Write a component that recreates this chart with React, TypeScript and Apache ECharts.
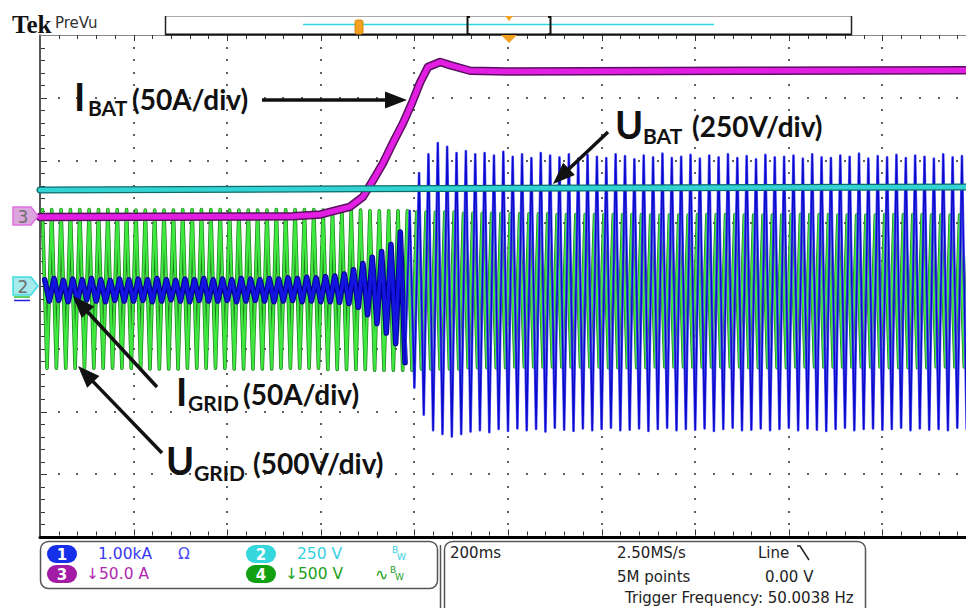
import { useEffect, useRef } from "react";
import * as echarts from "echarts";

// ---------- scope settings ----------
const TIME_MIN = 0; // ms
const TIME_MAX = 2000; // ms (10 div x 200 ms)
const TIME_DIV = 200;
const Y_MIN = -4; // divisions
const Y_MAX = 4;
const Y_DIV = 1;
const SUBDIV = 5; // minor graticule marks per division
const MAINS_PERIOD_MS = 20; // 50 Hz
const IGRID_STEP_CYCLE = 38; // cycle where the grid current ramps to full load

// ---------- Ch3 I_BAT (divisions) ----------
const IBAT_T = [0, 540, 600, 620, 662, 690, 712, 733, 754, 776, 795, 812, 829, 855, 876, 919, 1000, 1500, 2000];
const IBAT_V = [1.1, 1.11, 1.14, 1.18, 1.26, 1.42, 1.69, 1.96, 2.28, 2.6, 2.92, 3.24, 3.49, 3.57, 3.52, 3.43, 3.42, 3.43, 3.44];

// ---------- Ch2 U_BAT (divisions) ----------
const UBAT_T = [0, 700, 2000];
const UBAT_V = [1.53, 1.55, 1.58];

// ---------- Ch1 I_GRID: per-cycle positive / negative peaks (divisions) ----------
const IGRID_MAX = [
  0.1, 0.12, 0.09, 0.11, 0.1, 0.12, 0.1, 0.09, 0.11, 0.1,
  0.11, 0.1, 0.12, 0.1, 0.09, 0.11, 0.1, 0.12, 0.1, 0.11,
  0.1, 0.12, 0.11, 0.1, 0.12, 0.11, 0.13, 0.12, 0.14, 0.13,
  0.15, 0.16, 0.19, 0.26, 0.36, 0.46, 0.55, 0.66, 0.86, 1.2,
  1.8, 2.1, 2.28, 2.22, 2.12, 2.15, 2.1, 2.12, 2.08, 2.14,
  2.06, 2.1, 2.04, 2.12, 2.08, 2.05, 2.1, 2.03, 2.09, 2.06,
  2.04, 2.1, 2.07, 2.02, 2.08, 2.05, 2.11, 2.04, 2.06, 2.09,
  2.03, 2.08, 2.05, 2.1, 2.04, 2.07, 2.02, 2.09, 2.05, 2.06,
  2.08, 2.03, 2.1, 2.05, 2.04, 2.08, 2.06, 2.11, 2.03, 2.07,
  2.05, 2.09, 2.04, 2.08, 2.06, 2.03, 2.1, 2.05, 2.07, 2.04,
];
const IGRID_MIN = [
  -0.24, -0.23, -0.25, -0.24, -0.22, -0.24, -0.25, -0.23, -0.24, -0.24,
  -0.23, -0.25, -0.24, -0.22, -0.24, -0.25, -0.23, -0.24, -0.24, -0.23,
  -0.25, -0.24, -0.23, -0.24, -0.25, -0.24, -0.23, -0.25, -0.24, -0.25,
  -0.25, -0.26, -0.28, -0.34, -0.46, -0.6, -0.75, -0.92, -1.22, -1.62,
  -2.05, -2.3, -2.36, -2.4, -2.36, -2.32, -2.3, -2.33, -2.28, -2.31,
  -2.27, -2.3, -2.28, -2.32, -2.26, -2.29, -2.31, -2.27, -2.3, -2.28,
  -2.26, -2.3, -2.29, -2.27, -2.31, -2.28, -2.26, -2.3, -2.28, -2.29,
  -2.27, -2.31, -2.28, -2.26, -2.3, -2.29, -2.27, -2.3, -2.28, -2.26,
  -2.3, -2.27, -2.29, -2.31, -2.28, -2.26, -2.3, -2.28, -2.27, -2.29,
  -2.28, -2.26, -2.3, -2.27, -2.29, -2.28, -2.3, -2.26, -2.28, -2.27,
];

// ---------- Ch4 U_GRID: peaks per 100 ms segment (5 cycles each), divisions ----------
const UGRID_MAX = [1.22, 1.22, 1.21, 1.22, 1.21, 1.22, 1.21, 1.2, 1.18, 1.16, 1.15, 1.14, 1.14, 1.13, 1.14, 1.13, 1.14, 1.13, 1.14, 1.13];
const UGRID_MIN = [-1.31, -1.31, -1.32, -1.31, -1.32, -1.31, -1.33, -1.34, -1.32, -1.3, -1.29, -1.29, -1.3, -1.29, -1.29, -1.3, -1.29, -1.29, -1.3, -1.29];

// ---------- texts ----------
const LEFT_STATUS = { ch1: "1.00kA", ch2: "250 V", ch3: "\u219350.0 A", ch4: "\u2193500 V" };
const RIGHT_STATUS = {
  timebase: "200ms",
  rate: "2.50MS/s",
  points: "5M points",
  trigSrc: "Line",
  trigLevel: "0.00 V",
  trigFreq: "Trigger Frequency: 50.0038 Hz",
};

function zigzag(maxs: number[], mins: number[], cyclesPer: number, phase: number, from = 0, to = Infinity) {
  const pts: [number, number][] = [];
  const n = Math.min(maxs.length * cyclesPer, to);
  for (let c = from; c < n; c++) {
    const k = Math.floor(c / cyclesPer);
    pts.push([c * MAINS_PERIOD_MS + phase, maxs[k]]);
    pts.push([c * MAINS_PERIOD_MS + phase + MAINS_PERIOD_MS / 2, mins[k]]);
  }
  return pts;
}
const pairs = (t: number[], v: number[]) => t.map((x, i) => [x, v[i]]);

function lineSeries(data: any[], color: string, width: number, z: number) {
  return {
    type: "line",
    data,
    symbol: "none",
    showSymbol: false,
    silent: true,
    clip: true,
    z,
    lineStyle: { color, width, join: "round", cap: "round" },
  };
}

function arrow(x1: number, y1: number, x2: number, y2: number, head = 22, half = 8.5) {
  const dx = x2 - x1, dy = y2 - y1, L = Math.hypot(dx, dy);
  const ux = dx / L, uy = dy / L;
  const bx = x2 - ux * head, by = y2 - uy * head;
  return [
    { type: "line", z: 100, shape: { x1, y1, x2: bx + ux * 2, y2: by + uy * 2 }, style: { stroke: "#111", lineWidth: 3.5 } },
    {
      type: "polygon", z: 100,
      shape: { points: [[x2, y2], [bx - uy * half, by + ux * half], [bx + uy * half, by - ux * half]] },
      style: { fill: "#111" },
    },
  ];
}

function txt(text: string, x: number, y: number, size: number, fill: string, family: string, weight = "normal", align = "left") {
  return {
    type: "text", z: 100, x, y,
    style: {
      text, fill, fontSize: size, fontFamily: family, fontWeight: weight,
      textAlign: align, align, textVerticalAlign: "middle", verticalAlign: "middle",
    },
  };
}

function pill(x: number, y: number, label: string, color: string) {
  return [
    { type: "rect", z: 100, shape: { x, y, width: 30, height: 18, r: 9 }, style: { fill: color } },
    txt(label, x + 15, y + 9.5, 15, "#fff", "DejaVu Sans", "bold", "center"),
  ];
}

function marker(y: number, label: string, fill: string, stroke: string) {
  return [
    {
      type: "polygon", z: 100,
      shape: { points: [[13, y - 9], [31, y - 9], [38, y], [31, y + 9], [13, y + 9]] },
      style: { fill, stroke, lineWidth: 1.5 },
    },
    txt(label, 23, y + 0.5, 17, "#6d6d6d", "DejaVu Sans", "normal", "center"),
  ];
}

const LATO = "Lato";
const SANS = "DejaVu Sans";

export default function App() {
  const ref = useRef<HTMLDivElement>(null);
  useEffect(() => {
    const chart = echarts.init(ref.current!, null, { renderer: "svg" });

    const green = zigzag(UGRID_MAX, UGRID_MIN, 5, 5);
    const blueLow = zigzag(IGRID_MAX, IGRID_MIN, 1, 10, 0, IGRID_STEP_CYCLE + 1);
    const blueHigh = zigzag(IGRID_MAX, IGRID_MIN, 1, 10, IGRID_STEP_CYCLE);
    const mag = pairs(IBAT_T, IBAT_V);
    const cyan = pairs(UBAT_T, UBAT_V);

    const graphics: any[] = [
      // header
      txt("Tek", 12, 24, 25, "#111", "Liberation Serif", "bold"),
      txt("PreVu", 55, 23, 15, "#333", SANS),
      { type: "rect", z: 100, shape: { x: 165.5, y: 16.5, width: 686, height: 18 }, style: { fill: "#fff", stroke: "#aaa", lineWidth: 1 } },
      { type: "line", z: 101, shape: { x1: 165, y1: 34.5, x2: 852, y2: 34.5 }, style: { stroke: "#111", lineWidth: 2 } },
      { type: "line", z: 101, shape: { x1: 165.5, y1: 16, x2: 165.5, y2: 35 }, style: { stroke: "#222", lineWidth: 1.5 } },
      { type: "line", z: 101, shape: { x1: 851.5, y1: 16, x2: 851.5, y2: 35 }, style: { stroke: "#222", lineWidth: 1.5 } },
      { type: "line", z: 101, shape: { x1: 303, y1: 24.5, x2: 714, y2: 24.5 }, style: { stroke: "#2fd8e0", lineWidth: 1.5 } },
      { type: "rect", z: 102, shape: { x: 355, y: 20, width: 8, height: 14, r: 2 }, style: { fill: "#f4a020", stroke: "#d88a10", lineWidth: 1 } },
      txt("T", 359, 27, 9, "#ffe6b0", SANS, "bold", "center"),
      { type: "polyline", z: 102, shape: { points: [[470, 17], [467.5, 17], [467.5, 34], [470, 34]] }, style: { stroke: "#111", lineWidth: 2, fill: null } },
      { type: "polyline", z: 102, shape: { points: [[548, 17], [550.5, 17], [550.5, 34], [548, 34]] }, style: { stroke: "#111", lineWidth: 2, fill: null } },
      { type: "polygon", z: 102, shape: { points: [[505, 16], [513, 16], [509, 21]] }, style: { fill: "#f4a020" } },
      { type: "polygon", z: 102, shape: { points: [[501, 35], [517, 35], [509, 43]] }, style: { fill: "#f4a020" } },

      // channel markers on left
      ...marker(216, "3", "#dba6dc", "#e070e0"),
      ...marker(286, "2", "#a6eaec", "#3fdbe0"),
      { type: "line", z: 100, shape: { x1: 14, y1: 297, x2: 30, y2: 297 }, style: { stroke: "#30c030", lineWidth: 1.5 } },
      { type: "line", z: 100, shape: { x1: 14, y1: 300.5, x2: 30, y2: 300.5 }, style: { stroke: "#2020e0", lineWidth: 1.5 } },

      // annotations
      txt("I", 74, 96, 38, "#111", LATO, "bold"),
      txt("BAT", 88, 107, 21, "#111", LATO, "bold"),
      txt("(50A/div)", 132, 99, 28, "#111", LATO, "bold"),
      ...arrow(262, 100, 407, 100),

      txt("U", 615, 124, 38, "#111", LATO, "bold"),
      txt("BAT", 643, 135, 21, "#111", LATO, "bold"),
      txt("(250V/div)", 692, 126, 28, "#111", LATO, "bold"),
      ...arrow(608, 132, 553, 184),

      txt("I", 176, 391, 38, "#111", LATO, "bold"),
      txt("GRID", 188, 402, 21, "#111", LATO, "bold"),
      txt("(50A/div)", 243, 394, 28, "#111", LATO, "bold"),
      ...arrow(157, 387, 73, 296),

      txt("U", 166, 460, 38, "#111", LATO, "bold"),
      txt("GRID", 194, 472, 21, "#111", LATO, "bold"),
      txt("(500V/div)", 253, 463, 28, "#111", LATO, "bold"),
      ...arrow(162, 453, 78, 366),

      // status box left
      { type: "rect", z: 100, shape: { x: 40.5, y: 541.5, width: 397, height: 47, r: 8 }, style: { fill: "#fff", stroke: "#555", lineWidth: 1.5 } },
      ...pill(47, 545, "1", "#1530e8"),
      ...pill(246, 545, "2", "#35d6dc"),
      ...pill(47, 565, "3", "#a21ca6"),
      ...pill(246, 565, "4", "#12a012"),
      txt(LEFT_STATUS.ch1, 98, 554, 15.5, "#3838f0", SANS),
      txt("\u03a9", 178, 554, 15.5, "#4a4af0", SANS),
      txt(LEFT_STATUS.ch2, 297, 554, 15.5, "#36d0e0", SANS),
      txt("B", 392, 550, 9, "#36d0e0", SANS),
      txt("W", 397, 557, 9, "#36d0e0", SANS),
      txt(LEFT_STATUS.ch3, 86, 574, 15.5, "#b028b0", SANS),
      txt(LEFT_STATUS.ch4, 285, 574, 15.5, "#20a020", SANS),
      txt("\u223f", 375, 574, 16, "#20a020", SANS),
      txt("B", 390, 570, 9, "#20a020", SANS),
      txt("W", 395, 577, 9, "#20a020", SANS),

      // status box right
      { type: "line", z: 100, shape: { x1: 440.5, y1: 545, x2: 440.5, y2: 608 }, style: { stroke: "#555", lineWidth: 1.5 } },
      { type: "rect", z: 100, shape: { x: 444.5, y: 541.5, width: 421, height: 80, r: 8 }, style: { fill: "#fff", stroke: "#555", lineWidth: 1.5 } },
      txt(RIGHT_STATUS.timebase, 450, 553, 15, "#222", SANS),
      txt(RIGHT_STATUS.rate, 617, 553, 15, "#222", SANS),
      txt(RIGHT_STATUS.trigSrc, 758, 553, 15, "#222", SANS),
      { type: "polyline", z: 100, shape: { points: [[797, 546], [800, 546], [809, 560]] }, style: { stroke: "#222", lineWidth: 1.5, fill: null } },
      txt(RIGHT_STATUS.points, 617, 577, 15, "#222", SANS),
      txt(RIGHT_STATUS.trigLevel, 765, 577, 15, "#222", SANS),
      txt(RIGHT_STATUS.trigFreq, 625, 598, 15, "#222", SANS),
    ];

    const hiddenTicks = { axisTick: { show: false }, minorTick: { show: false }, axisLabel: { show: false }, splitLine: { show: false } };

    chart.setOption({
      animation: false,
      grid: { left: 40, top: 35, width: 936, height: 502, outerBoundsMode: "none" },
      xAxis: [
        {
          type: "value", min: TIME_MIN, max: TIME_MAX, interval: TIME_DIV, position: "bottom",
          axisLine: { show: true, onZero: false, lineStyle: { color: "#000", width: 3 } },
          ...hiddenTicks,
        },
        {
          type: "value", min: TIME_MIN, max: TIME_MAX, interval: TIME_DIV, position: "top",
          axisLine: { show: true, onZero: false, lineStyle: { color: "#888", width: 1 } },
          ...hiddenTicks,
        },
      ],
      yAxis: {
        type: "value", min: Y_MIN, max: Y_MAX, interval: Y_DIV, position: "left",
        axisLine: { show: true, onZero: false, lineStyle: { color: "#222", width: 1.5 } },
        ...hiddenTicks,
      },
      series: [
        lineSeries(green, "#1f7a1f", 3.6, 2),
        lineSeries(green, "#3ee83e", 2.2, 3),
        lineSeries(blueLow, "#00008a", 5.5, 4),
        lineSeries(blueLow, "#1414e0", 3.5, 5),
        lineSeries(blueHigh, "#5a5aff", 2.6, 4),
        lineSeries(blueHigh, "#0a0ac8", 1.4, 5),
        lineSeries(mag, "#5a1060", 8.5, 6),
        lineSeries(mag, "#e21ee2", 5.5, 7),
        lineSeries(cyan, "#0d6b6b", 7, 8),
        lineSeries(cyan, "#33d3d3", 4.5, 9),
      ],
      graphic: { elements: graphics },
    });

    // graticule (dots on division lines + sub-division ticks) placed through the chart's own scales
    const px = (t: number, v: number) => chart.convertToPixel({ gridIndex: 0 }, [t, v]) as number[];
    const [gx0, gyTop] = px(TIME_MIN, Y_MAX);
    const [gx1, gyBot] = px(TIME_MAX, Y_MIN);
    const nxMinor = ((TIME_MAX - TIME_MIN) / TIME_DIV) * SUBDIV;
    const nyMinor = ((Y_MAX - Y_MIN) / Y_DIV) * SUBDIV;
    const xStep = (gx1 - gx0) / nxMinor;
    const yStep = (gyBot - gyTop) / nyMinor;
    const grat: any[] = [];
    const dot = (x: number, y: number) => ({
      type: "rect", z: 1, silent: true,
      shape: { x: Math.round(x) - 1, y: Math.round(y) - 1, width: 2, height: 2 },
      style: { fill: "#606060" },
    });
    for (let t = TIME_MIN + TIME_DIV; t < TIME_MAX; t += TIME_DIV) {
      const x = px(t, 0)[0];
      for (let j = 1; j < nyMinor; j++) grat.push(dot(x, gyTop + j * yStep));
    }
    for (let v = Y_MIN + Y_DIV; v < Y_MAX; v += Y_DIV) {
      const y = px(0, v)[1];
      for (let i = 1; i < nxMinor; i++) {
        if (i % SUBDIV === 0) continue;
        grat.push(dot(gx0 + i * xStep, y));
      }
    }
    const tick = (x: number, y: number, w: number, h: number) => ({
      type: "rect", z: 1, silent: true, shape: { x, y, width: w, height: h }, style: { fill: "#333" },
    });
    for (let i = 1; i < nxMinor; i++) {
      const x = Math.round(gx0 + i * xStep);
      const len = i % SUBDIV === 0 ? 6 : 4;
      grat.push(tick(x, gyBot - 1.5 - len, 1, len));
      grat.push(tick(x, gyTop, 1, len));
    }
    for (let j = 1; j < nyMinor; j++) {
      const y = Math.round(gyTop + j * yStep);
      const len = j % SUBDIV === 0 ? 6 : 4;
      grat.push(tick(gx0 + 1, y, len, 1));
    }
    chart.setOption({ graphic: { elements: [...graphics, ...grat] } });

    return () => chart.dispose();
  }, []);
  return <div ref={ref} style={{ position: "fixed", left: 0, top: 0, width: 966, height: 608, background: "#fff" }} />;
}
